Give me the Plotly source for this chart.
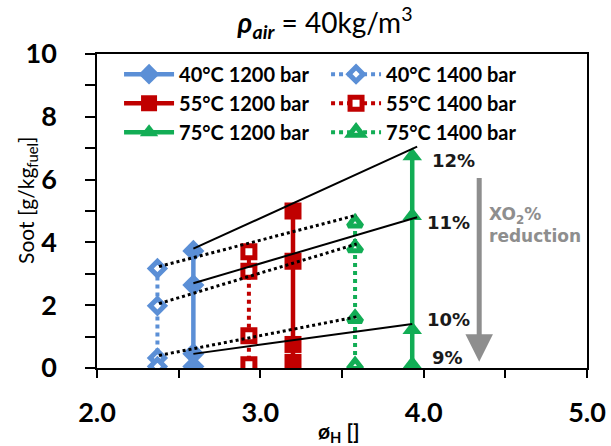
import plotly.graph_objects as go

FONT = "Lato"

# Series data (x = equivalence ratio phi_H, y = soot)
series_names = ["40°C 1200 bar", "40°C 1400 bar", "55°C 1200 bar",
                "55°C 1400 bar", "75°C 1200 bar", "75°C 1400 bar"]
x_40_1200 = [2.59, 2.59, 2.59, 2.59]
y_40_1200 = [3.73, 2.64, 0.45, 0.05]
x_40_1400 = [2.37, 2.37, 2.37, 2.37]
y_40_1400 = [3.17, 1.98, 0.32, 0.05]
x_55_1200 = [3.20, 3.20, 3.20, 3.20]
y_55_1200 = [5.00, 3.40, 0.75, 0.18]
x_55_1400 = [2.93, 2.93, 2.93, 2.93]
y_55_1400 = [3.70, 3.08, 1.03, 0.10]
x_75_1200 = [3.93, 3.93, 3.93, 3.93]
y_75_1200 = [6.75, 4.85, 1.22, 0.12]
x_75_1400 = [3.58, 3.58, 3.58, 3.58]
y_75_1400 = [4.62, 3.83, 1.58, 0.08]

# Trend lines for XO2 levels (start/end)
trend_solid_x = [[2.59, 3.96], [2.59, 3.96], [2.59, 3.93]]
trend_solid_y = [[3.80, 7.05], [2.70, 4.80], [0.45, 1.40]]
trend_dot_x = [[2.38, 3.59], [2.38, 3.59], [2.38, 3.59]]
trend_dot_y = [[3.23, 4.87], [2.05, 3.95], [0.40, 1.63]]

# XO2 labels
pct_labels = ["12%", "11%", "10%", "9%"]
pct_x = [4.04, 4.01, 4.01, 4.04]
pct_y = [6.6, 4.63, 1.53, 0.32]

x_ticks = [2.0, 3.0, 4.0, 5.0]
y_ticks = [0, 2, 4, 6, 8, 10]

BLUE = "#5b8fd6"
RED = "#c00000"
GREEN = "#12ad55"
GRAY = "#8e8e8e"

fig = go.Figure()

def add_series(x, y, name, color, symbol, size, dotted, hollow):
    fig.add_trace(go.Scatter(
        x=x, y=y, name=name, mode="lines+markers",
        line=dict(color=color, width=4 if dotted else 4.5, dash="dot" if dotted else "solid"),
        marker=dict(symbol=symbol, size=size,
                    color="white" if hollow else color,
                    line=dict(color=color, width=5 if hollow else 0)),
    ))

add_series(x_40_1200, y_40_1200, series_names[0], BLUE, "diamond", 17, False, False)
add_series(x_40_1400, y_40_1400, series_names[1], BLUE, "diamond", 11, True, True)
add_series(x_55_1200, y_55_1200, series_names[2], RED, "square", 17, False, False)
add_series(x_55_1400, y_55_1400, series_names[3], RED, "square", 12, True, True)
add_series(x_75_1200, y_75_1200, series_names[4], GREEN, "triangle-up", 17, False, False)
add_series(x_75_1400, y_75_1400, series_names[5], GREEN, "triangle-up", 12, True, True)

for xs, ys in zip(trend_solid_x, trend_solid_y):
    fig.add_trace(go.Scatter(x=xs, y=ys, mode="lines", showlegend=False,
                             line=dict(color="black", width=2), hoverinfo="skip"))
for xs, ys in zip(trend_dot_x, trend_dot_y):
    fig.add_trace(go.Scatter(x=xs, y=ys, mode="lines", showlegend=False,
                             line=dict(color="black", width=3, dash="dot"), hoverinfo="skip"))

for t, xx, yy in zip(pct_labels, pct_x, pct_y):
    fig.add_annotation(x=xx, y=yy, text="<b>" + t + "</b>", showarrow=False,
                       xanchor="left", yanchor="middle",
                       font=dict(family="DejaVu Sans", size=18, color="#1a1a1a"))

# Reduction arrow
fig.add_annotation(x=4.34, y=0.2, ax=4.34, ay=6.1, xref="x", yref="y",
                   axref="x", ayref="y", text="", showarrow=True,
                   arrowhead=2, arrowsize=1.1, arrowwidth=5, arrowcolor=GRAY)
fig.add_annotation(x=4.39, y=4.55, text="<b>XO<sub>2</sub>%<br>reduction</b>",
                   showarrow=False, xanchor="left", yanchor="middle", align="left",
                   font=dict(family="DejaVu Sans", size=17, color=GRAY))

# Axis titles placed as annotations
fig.add_annotation(x=-0.143, y=0.535, xref="paper", yref="paper",
                   text="Soot [g/kg<sub>fuel</sub>]", showarrow=False, textangle=-90,
                   xanchor="center", yanchor="middle",
                   font=dict(family=FONT, size=21, color="black"))
fig.add_annotation(x=0.494, y=-0.205, xref="paper", yref="paper",
                   text="<b>ø<sub>H</sub> []</b>", showarrow=False,
                   xanchor="center", yanchor="middle",
                   font=dict(family=FONT, size=21, color="black"))

fig.update_layout(
    width=611, height=446,
    margin=dict(l=97, r=24, t=54, b=78, autoexpand=False),
    paper_bgcolor="white", plot_bgcolor="white",
    font=dict(family=FONT, color="black"),
    title=dict(text="<b><i>ρ</i></b><sub><b><i>air</i></b></sub> = 40kg/m<sup>3</sup>",
               x=0.532, xanchor="center", y=0.948, yanchor="middle",
               xref="container", yref="container",
               font=dict(family=FONT, size=28, color="black")),
    legend=dict(orientation="h", x=0.045, y=0.998, xanchor="left", yanchor="top",
                entrywidth=142, entrywidthmode="pixels", itemwidth=50,
                bgcolor="rgba(255,255,255,0)",
                font=dict(family=FONT, size=20, color="black", weight="bold")),
    showlegend=True,
)
fig.update_xaxes(range=[2, 5], tickvals=x_ticks, ticktext=[f"<b>{v:.1f}</b>" for v in x_ticks],
                 ticks="outside", ticklen=8, tickwidth=1.5, tickcolor="black",
                 minor=dict(dtick=0.5, ticks="outside", ticklen=8, tickwidth=1.5, tickcolor="black"),
                 showline=True, linecolor="black", linewidth=1.5, mirror=True,
                 showgrid=False, zeroline=False, ticklabelstandoff=12, automargin=False,
                 tickfont=dict(family=FONT, size=27, color="black"))
fig.update_yaxes(range=[0, 10], tickvals=y_ticks, ticktext=[f"<b>{v}</b>" for v in y_ticks],
                 ticks="outside", ticklen=10, tickwidth=1.5, tickcolor="black",
                 minor=dict(dtick=1, ticks="outside", ticklen=10, tickwidth=1.5, tickcolor="black"),
                 showline=True, linecolor="black", linewidth=1.5, mirror=True,
                 showgrid=False, zeroline=False, ticklabelstandoff=23, automargin=False,
                 tickfont=dict(family=FONT, size=27, color="black"))

fig.write_html("out.html")
